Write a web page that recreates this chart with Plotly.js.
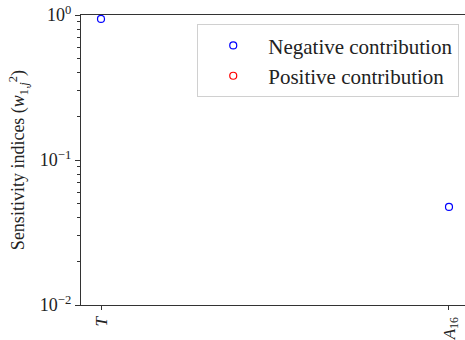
<!DOCTYPE html>
<html>
<head>
<meta charset="utf-8">
<script src="https://cdn.plot.ly/plotly-3.0.1.min.js"></script>
<style>html,body{margin:0;padding:0;background:#fff;}#chart{width:465px;height:340px;}</style>
</head>
<body>
<div id="chart"></div>
<script>
const categories = ['T', 'A16'];
const categoryLabels = ['<i>T</i>', '<i>A</i><sub>16</sub>'];
const negativeValues = [0.94, 0.0475];
const positiveCategories = [null];
const positiveValues = [null];
const yTickVals = [0.01, 0.1, 1];
const yTickText = ['10<sup>−2</sup>', '10<sup>−1</sup>', '10<sup>0</sup>'];
const yMinorVals = [0.02,0.03,0.04,0.05,0.06,0.07,0.08,0.09,0.2,0.3,0.4,0.5,0.6,0.7,0.8,0.9];

const xIdx = categories.map((c, i) => i);
const font = "'Liberation Serif', 'DejaVu Serif', serif";

const traces = [
  {
    x: xIdx, y: negativeValues, name: 'Negative contribution',
    type: 'scatter', mode: 'markers',
    marker: {symbol: 'circle-open', size: 7, color: '#0000ff', line: {width: 1.2, color: '#0000ff'}}
  },
  {
    x: positiveCategories, y: positiveValues, name: 'Positive contribution',
    type: 'scatter', mode: 'markers',
    marker: {symbol: 'circle-open', size: 7, color: '#ff0000', line: {width: 1.2, color: '#ff0000'}}
  }
];

const layout = {
  width: 465, height: 340,
  margin: {l: 81, r: 0, t: 15, b: 35},
  paper_bgcolor: '#fff', plot_bgcolor: '#fff',
  font: {family: font, color: '#222', size: 17},
  showlegend: true,
  legend: {
    x: 0.985, y: 0.968, xanchor: 'right', yanchor: 'top',
    bgcolor: 'rgba(255,255,255,0.8)', bordercolor: '#d0d0d0', borderwidth: 1,
    font: {family: font, size: 21, color: '#222'},
    itemwidth: 60, tracegroupgap: 2
  },
  xaxis: {
    type: 'linear', range: [-0.0575, 1.046],
    tickmode: 'array', tickvals: xIdx, ticktext: categoryLabels,
    tickangle: -90, ticks: 'outside', ticklen: 4, tickcolor: '#333',
    showline: true, linecolor: '#333', linewidth: 1.2, mirror: true,
    showgrid: false, zeroline: false,
    tickfont: {family: font, size: 17, color: '#222'}
  },
  yaxis: {
    type: 'log', range: [-2, 0],
    tickmode: 'array', tickvals: yTickVals, ticktext: yTickText,
    ticks: 'outside', ticklen: 5, tickcolor: '#333',
    minor: {tickmode: 'array', tickvals: yMinorVals, ticks: 'outside', ticklen: 3, tickcolor: '#333', showgrid: false},
    showline: true, linecolor: '#333', linewidth: 1.2,
    showgrid: false, zeroline: false,
    tickfont: {family: font, size: 18, color: '#222'},
    title: {text: 'Sensitivity indices (<i>w</i><sub>1,<i>j</i></sub><sup>2</sup>)', font: {family: font, size: 18, color: '#222'}, standoff: 10}
  }
};

Plotly.newPlot('chart', traces, layout, {displayModeBar: false, staticPlot: true});
</script>
</body>
</html>
